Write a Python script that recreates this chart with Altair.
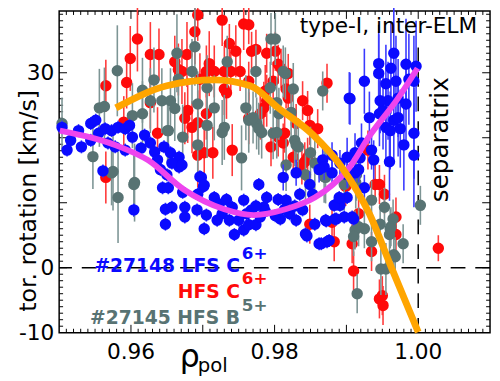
import altair as alt
import pandas as pd

# ---------------- data ----------------
# (rho_pol, v_tor [km/s], error)
blue_pts = [
    (0.9504, 21.6, 1), (0.9516, 19.6, 1), (0.9511, 18.1, 1), (0.9527, 21.1, 1), (0.9531, 18.6, 1),
    (0.9544, 22.2, 1), (0.9551, 22.7, 1), (0.9555, 20.7, 1), (0.9544, 19.6, 1), (0.9564, 21.4, 1),
    (0.9573, 21.1, 1), (0.9568, 19.2, 1), (0.9582, 21.6, 1), (0.9592, 21.4, 1), (0.9598, 21.9, 1),
    (0.9578, 18.6, 1), (0.9592, 18.1, 1), (0.9602, 20.1, 1), (0.9619, 20.4, 1), (0.9614, 18.4, 1),
    (0.9627, 19.2, 1), (0.9633, 17.8, 1), (0.9637, 16.6, 1), (0.9646, 18.6, 1), (0.9655, 17.7, 1),
    (0.9667, 17.0, 1), (0.9641, 15.1, 1), (0.9696, 14.0, 1), (0.9701, 12.5, 1), (0.9667, 15.5, 1),
    (0.9657, 16.1, 1), (0.9671, 15.8, 1), (0.9561, 14.9, 1), (0.9604, 8.9, 1), (0.9648, 6.7, 1),
    (0.9648, 9.0, 1), (0.9644, 12.3, 1), (0.9650, 14.3, 1), (0.9652, 12.3, 1), (0.9657, 9.3, 1),
    (0.9672, 11.6, 1), (0.9675, 9.3, 1), (0.9675, 7.8, 1), (0.9692, 8.9, 1), (0.9693, 11.3, 1),
    (0.9698, 13.9, 1), (0.9702, 12.7, 1), (0.9705, 8.1, 1), (0.9702, 6.0, 1), (0.9716, 10.8, 1),
    (0.9723, 9.8, 1), (0.9727, 8.3, 1), (0.9720, 7.3, 1), (0.9733, 10.5, 1), (0.9741, 9.3, 1),
    (0.9737, 7.3, 1), (0.9744, 5.1, 1), (0.9750, 7.3, 1), (0.9757, 5.8, 1), (0.9764, 6.6, 1),
    (0.9768, 8.9, 1), (0.9774, 6.6, 1), (0.9780, 7.8, 1), (0.9778, 12.8, 1), (0.9785, 9.3, 1),
    (0.9789, 10.8, 1), (0.9761, 8.3, 1), (0.9757, 10.4, 1), (0.9812, 13.9, 2), (0.9830, 14.6, 2),
    (0.9805, 10.5, 1), (0.9816, 10.4, 1), (0.9821, 8.3, 1), (0.9808, 7.5, 1), (0.9830, 7.3, 1),
    (0.9839, 8.9, 1), (0.9835, 11.3, 1), (0.9849, 12.8, 2), (0.9853, 11.3, 1), (0.9843, 5.2, 1),
    (0.9862, 3.7, 1), (0.9873, 4.0, 1), (0.9871, 7.3, 1), (0.9884, 7.5, 1), (0.9897, 7.8, 1),
    (0.9910, 7.5, 1), (0.9891, 9.6, 1), (0.9883, 9.6, 1), (0.9901, 10.8, 1), (0.9890, 10.8, 1),
    (0.9880, 14.6, 2), (0.9901, 14.3, 2), (0.9912, 14.6, 2), (0.9925, 12.3, 2), (0.9917, 15.1, 2),
    (0.9905, 26.0, 4), (0.9925, 28.7, 5), (0.9945, 31.4, 6), (0.9945, 29.9, 6), (0.9932, 23.1, 4),
    (0.9946, 23.7, 5), (0.9921, 19.2, 3), (0.9912, 17.7, 3), (0.9901, 17.0, 3), (0.9919, 16.9, 3),
    (0.9935, 18.1, 3), (0.9938, 16.6, 3), (0.9867, 16.6, 2), (0.9880, 17.3, 2), (0.9891, 16.1, 2),
    (0.9869, 15.5, 2), (0.9862, 15.1, 2), (0.9966, 33.0, 7), (0.9983, 31.3, 7), (0.9997, 31.0, 7),
    (0.9962, 30.7, 7), (0.9955, 28.3, 6), (0.9969, 28.7, 7), (0.9987, 29.0, 7), (0.9994, 28.7, 7),
    (0.9958, 25.7, 6), (0.9972, 26.1, 6), (0.9983, 25.2, 7), (0.9966, 22.7, 6), (0.9955, 21.6, 6),
    (0.9994, 20.7, 7), (0.9980, 18.9, 7), (0.9994, 17.3, 8), (0.9960, 16.3, 6), (0.9951, 24.2, 6),
    (0.9904, 26.1, 4), (0.9947, 25.7, 5), (0.9972, 23.1, 6), (0.9975, 21.4, 6), (0.9961, 21.1, 6),
    (0.9845, 4.9, 1), (0.9865, 3.7, 1), (0.9876, 4.2, 1), (0.9872, 7.2, 1), (0.9886, 7.5, 1),
    (0.9908, 7.8, 1), (0.9856, 6.7, 1), (0.9814, 9.0, 1), (0.9801, 8.0, 1), (0.9787, 8.7, 1),
    (0.9774, 9.5, 1), (0.9828, 9.5, 1),
]

red_pts = [
    (0.9609, 35.2, 5), (0.9599, 32.2, 5), (0.9627, 32.8, 5), (0.9639, 32.8, 4), (0.9565, 28.0, 4),
    (0.9594, 28.5, 4), (0.9637, 20.7, 4), (0.9590, 22.4, 4), (0.9627, 25.4, 4), (0.9565, 13.9, 4),
    (0.9693, 38.9, 4), (0.9727, 38.1, 4), (0.9757, 37.5, 4), (0.9689, 36.3, 5), (0.9737, 34.5, 3),
    (0.9746, 33.3, 4), (0.9768, 33.3, 3), (0.9789, 33.0, 3), (0.9678, 32.8, 5), (0.9661, 31.7, 4),
    (0.9709, 31.4, 5), (0.9666, 30.5, 4), (0.9671, 30.2, 5), (0.9705, 30.2, 4), (0.9716, 30.2, 4),
    (0.9730, 30.2, 4), (0.9739, 30.2, 3), (0.9752, 30.2, 3), (0.9696, 29.0, 4), (0.9764, 28.7, 3),
    (0.9730, 27.5, 4), (0.9733, 26.9, 4), (0.9787, 27.2, 4), (0.9789, 25.7, 4), (0.9785, 24.6, 4),
    (0.9679, 24.2, 5), (0.9705, 23.7, 4), (0.9675, 23.0, 4), (0.9693, 22.3, 5), (0.9685, 21.6, 4),
    (0.9764, 23.0, 4), (0.9780, 23.7, 4), (0.9741, 18.1, 4), (0.9702, 17.7, 5), (0.9693, 17.3, 5),
    (0.9795, 18.6, 3), (0.9714, 17.7, 4), (0.9801, 33.3, 3), (0.9809, 30.7, 3), (0.9819, 29.9, 3),
    (0.9816, 27.5, 3), (0.9839, 25.7, 3), (0.9846, 24.2, 3), (0.9873, 28.4, 3), (0.9830, 22.2, 3),
    (0.9860, 21.4, 3), (0.9805, 20.1, 3), (0.9812, 19.2, 3), (0.9826, 17.0, 3), (0.9842, 16.3, 3),
    (0.9930, 18.1, 3), (0.9764, 37.4, 3), (0.9774, 33.6, 3), (0.9805, 31.3, 3), (0.9798, 28.7, 3),
    (0.9819, 26.1, 3), (0.9849, 21.9, 3), (0.9814, 20.7, 3), (0.9838, 15.8, 3), (0.9846, 17.0, 3),
    (0.9899, 12.5, 3), (0.9940, 12.8, 3), (0.9849, 6.7, 3), (0.9883, 4.0, 3), (0.9908, 3.7, 3),
    (0.9880, 7.0, 3), (0.9917, 8.3, 3), (0.9935, 2.5, 3), (0.9910, -0.5, 3), (0.9946, -4.8, 3),
    (0.9946, 12.8, 3), (0.9953, 11.3, 3), (0.9969, 7.8, 3), (0.9969, 5.1, 3), (1.0028, 3.0, 2),
    (0.9951, -5.8, 3), (0.9950, -4.3, 3),
]

grey_pts = [
    (0.9581, 30.3, 7), (0.9632, 28.9, 5), (0.9616, 27.3, 5), (0.9556, 24.6, 6), (0.9563, 24.8, 6),
    (0.9627, 25.7, 5), (0.9643, 25.7, 5), (0.9602, 23.4, 5), (0.9616, 23.7, 5), (0.9652, 21.1, 5),
    (0.9547, 17.1, 5), (0.9504, 22.2, 4), (0.9575, 14.8, 6), (0.9605, 13.1, 6), (0.9573, 14.6, 5),
    (0.9604, 12.8, 5), (0.9582, 10.8, 7), (0.9689, 34.0, 6), (0.9664, 33.0, 6), (0.9685, 30.2, 5),
    (0.9734, 31.7, 4), (0.9774, 30.2, 4), (0.9795, 35.2, 4), (0.9666, 29.0, 5), (0.9706, 27.7, 5),
    (0.9794, 27.7, 4), (0.9655, 25.7, 5), (0.9661, 24.5, 5), (0.9693, 25.2, 5), (0.9716, 24.6, 5),
    (0.9760, 24.6, 5), (0.9764, 22.7, 5), (0.9775, 22.2, 4), (0.9782, 20.8, 4), (0.9651, 21.1, 5),
    (0.9672, 20.1, 5), (0.9706, 21.9, 5), (0.9730, 21.6, 5), (0.9727, 20.8, 5), (0.9693, 18.9, 5),
    (0.9754, 16.9, 5), (0.9798, 20.7, 4), (0.9801, 35.2, 4), (0.9815, 29.9, 4), (0.9826, 27.5, 4),
    (0.9867, 27.2, 3), (0.9803, 25.4, 4), (0.9823, 23.9, 4), (0.9803, 20.8, 4), (0.9828, 19.6, 4),
    (0.9830, 18.9, 4), (0.9816, 15.8, 4), (0.9850, 17.7, 4), (0.9856, 16.1, 4), (0.9812, 30.2, 4),
    (0.9770, 23.1, 4), (0.9778, 21.4, 4), (0.9806, 23.7, 4), (0.9833, 18.6, 4), (0.9869, 14.0, 4),
    (0.9913, 13.1, 4), (0.9914, 14.3, 4), (0.9843, 14.3, 4), (0.9871, 13.9, 4), (0.9897, 12.8, 4),
    (0.9912, 5.8, 3), (0.9925, 6.0, 3), (0.9910, 4.8, 3), (0.9935, 4.0, 3), (0.9915, -4.0, 3),
    (0.9948, -0.2, 4), (0.9935, 10.4, 3), (0.9953, 9.3, 3), (0.9965, 7.5, 3), (0.9962, 6.3, 3),
    (0.9960, 5.1, 3), (0.9979, 3.7, 3), (0.9966, 2.0, 3), (0.9955, -0.2, 4), (1.0003, 9.6, 3),
    (0.9917, 6.3, 3), (0.9947, 6.7, 3), (0.9961, 6.0, 3), (0.9968, 1.7, 3),
]

orange_x = [0.9579, 0.9650, 0.9716, 0.9766, 0.9805, 0.9853, 0.9894, 0.9932, 0.9962, 1.0000]
orange_y = [24.6, 28.0, 28.9, 28.0, 24.6, 20.5, 15.4, 8.3, 0.2, -9.9]

magenta_x = [0.9501, 0.9589, 0.9623, 0.9674, 0.9730, 0.9771, 0.9815, 0.9856, 0.9880,
             0.9904, 0.9931, 0.9972, 0.9999]
magenta_y = [21.1, 18.4, 16.6, 12.0, 9.0, 8.1, 9.0, 10.8, 12.7,
             15.4, 20.1, 26.1, 30.7]

x_label_vals = [0.96, 0.98, 1.00]
x_label_text = ["0.96", "0.98", "1.00"]
y_label_vals = [-10, 0, 30]
y_label_text = ["-10", "0", "30"]

# ---------------- layout ----------------
W, H = 438, 327
XD = [0.95, 1.01]
YD = [-10, 39.5]
FONT = "DejaVu Sans"
BLUE, RED, GREY = "#0a0aff", "#ff0a0a", "#587373"

xs = alt.Scale(domain=XD, nice=False, zero=False)
ys = alt.Scale(domain=YD, nice=False, zero=False)


def X(f):
    return alt.X(f, type="quantitative", scale=xs, axis=None)


def Y(f):
    return alt.Y(f, type="quantitative", scale=ys, axis=None)


def series(pts, col, barcol):
    df = pd.DataFrame(pts, columns=["x", "y", "e"])
    df["lo"] = df["y"] - df["e"]
    df["hi"] = df["y"] + df["e"]
    base = alt.Chart(df)
    bars = base.mark_rule(color=barcol, strokeWidth=1.6).encode(x=X("x"), y=Y("lo"), y2="hi")
    dots = base.mark_circle(color=col, size=135, opacity=1).encode(x=X("x"), y=Y("y"))
    return [bars, dots]


layers = []

# tick labels and axis title as text
xl = pd.DataFrame({"v": x_label_vals, "t": x_label_text})
layers.append(alt.Chart(xl).mark_text(font=FONT, fontSize=22, color="black", align="center",
                                      baseline="top").encode(
    x=X("v"), y=alt.value(H + 10), text="t:N"))
yl = pd.DataFrame({"v": y_label_vals, "t": y_label_text})
layers.append(alt.Chart(yl).mark_text(font=FONT, fontSize=22, color="black", align="right",
                                      baseline="middle").encode(
    y=Y("v"), x=alt.value(-5), text="t:N"))
layers.append(alt.Chart(pd.DataFrame({"t": ["tor. rotation [km/s]"]})).mark_text(
    font=FONT, fontSize=24, color="black", align="center", baseline="middle", angle=270).encode(
    x=alt.value(-31), y=alt.value(193), text="t:N"))

# inward ticks on all four sides
xmaj = [round(0.95 + 0.01 * i, 3) for i in range(1, 6)]
xmin = [round(0.95 + 0.001 * i, 4) for i in range(1, 60) if i % 10 != 0]
ymaj = [0, 10, 20, 30]
ymin = [v for v in range(-9, 40) if v % 10 != 0]
for vals, ln in ((xmaj, 8), (xmin, 4)):
    d = pd.DataFrame({"t": vals})
    layers.append(alt.Chart(d).mark_rule(color="black", strokeWidth=1).encode(
        x=X("t"), y=alt.value(H), y2=alt.value(H - ln)))
    layers.append(alt.Chart(d).mark_rule(color="black", strokeWidth=1).encode(
        x=X("t"), y=alt.value(0), y2=alt.value(ln)))
for vals, ln in ((ymaj, 8), (ymin, 4)):
    d = pd.DataFrame({"t": vals})
    layers.append(alt.Chart(d).mark_rule(color="black", strokeWidth=1).encode(
        y=Y("t"), x=alt.value(0), x2=alt.value(ln)))
    layers.append(alt.Chart(d).mark_rule(color="black", strokeWidth=1).encode(
        y=Y("t"), x=alt.value(W), x2=alt.value(W - ln)))

# dashed reference lines
layers.append(alt.Chart(pd.DataFrame({"y": [0]})).mark_rule(
    color="black", strokeWidth=1.5, strokeDash=[15, 10]).encode(y=Y("y")))
layers.append(alt.Chart(pd.DataFrame({"x": [1.0], "y": [-10], "y2": [34.5]})).mark_rule(
    color="black", strokeWidth=1.5, strokeDash=[15, 10]).encode(x=X("x"), y=Y("y"), y2="y2"))

layers += series(red_pts, RED, "#ff3a3a")
layers += series(grey_pts, GREY, "#7d9595")
layers += series(blue_pts, BLUE, "#3a3aff")

mag = pd.DataFrame({"x": magenta_x, "y": magenta_y})
layers.append(alt.Chart(mag).mark_line(color="#ee44ee", strokeWidth=6, interpolate="monotone").encode(
    x=X("x"), y=Y("y")))
ora = pd.DataFrame({"x": orange_x, "y": orange_y})
layers.append(alt.Chart(ora).mark_line(color="#ffa500", strokeWidth=7, interpolate="monotone").encode(
    x=X("x"), y=Y("y")))


def label(text, x, y, color, size, weight="normal", align="left", angle=0,
          baseline="alphabetic", dy=0):
    d = pd.DataFrame({"x": [x], "y": [y], "t": [text]})
    return alt.Chart(d).mark_text(color=color, font=FONT, fontSize=size, fontWeight=weight,
                                  align=align, baseline=baseline, angle=angle, dy=dy,
                                  clip=False).encode(x=X("x"), y=Y("y"), text="t:N")


LX = 0.97517
SX = 0.97544
layers.append(label("#27148 LFS C", LX, -0.6, BLUE, 19, "bold", "right"))
layers.append(label("6+", SX, -0.6, BLUE, 17, "bold", dy=-13))
layers.append(label("HFS C", LX, -4.6, RED, 19, "bold", "right"))
layers.append(label("6+", SX, -4.6, RED, 17, "bold", dy=-14))
layers.append(label("#27145 HFS B", LX, -8.6, GREY, 19, "bold", "right"))
layers.append(label("5+", SX, -8.6, GREY, 17, "bold", dy=-13))
layers.append(label("type-I, inter-ELM", 1.0082, 36.1, "black", 22, "normal", "right"))
layers.append(label("separatrix", 1.0030, 19.7, "black", 25, "normal", "center", 270, "middle"))
layers.append(label("ρ", 0.9668, -15.2, "black", 32))
layers.append(label("pol", 0.9693, -16.0, "black", 20))

chart = alt.layer(*layers).properties(
    width=W, height=H,
    autosize=alt.AutoSizeParams(type="none"),
    padding={"left": 52, "top": 0, "right": 2, "bottom": 45},
    background="white",
).configure_view(stroke="black", strokeWidth=1.5)

chart.save("out.html", embed_options={"renderer": "svg", "actions": False})
